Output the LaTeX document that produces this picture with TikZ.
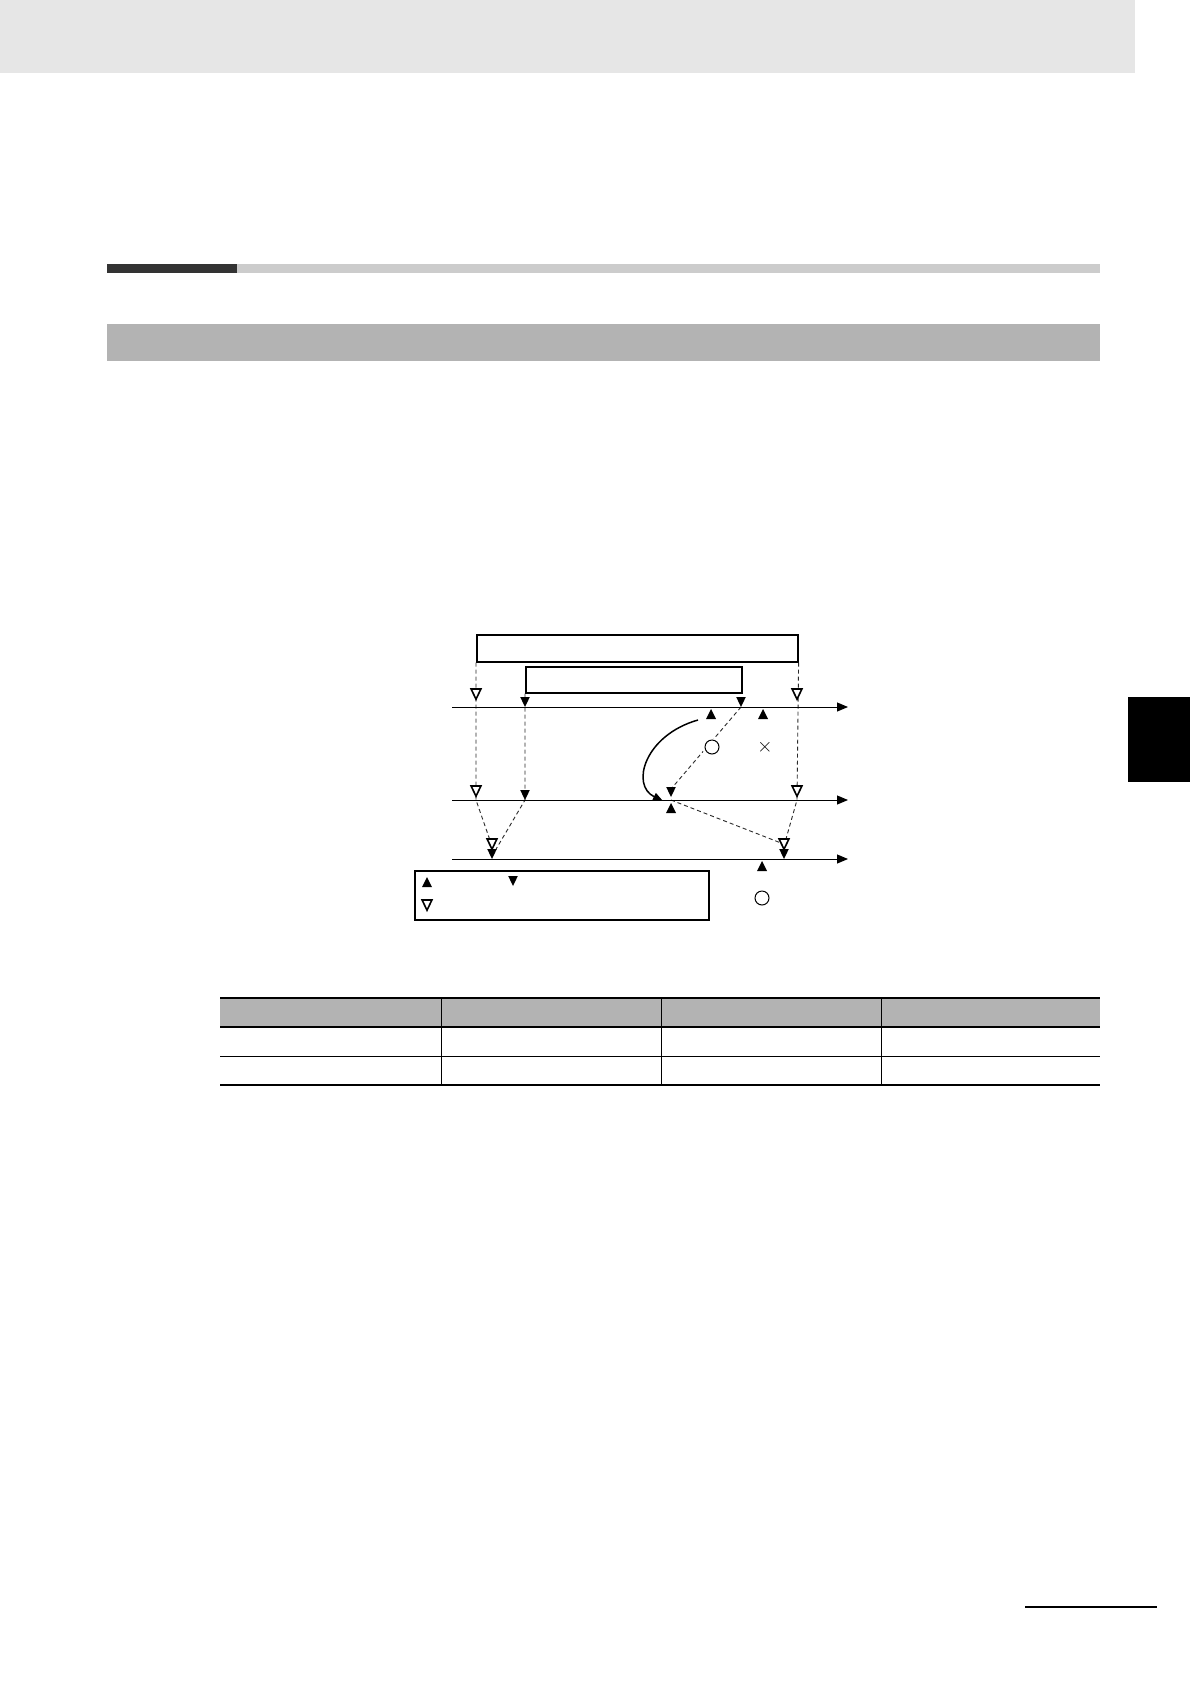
\documentclass[tikz,border=0pt]{standalone}
\usepackage{fontspec}
\usetikzlibrary{arrows.meta}
\definecolor{hdrgray}{HTML}{E6E6E6}
\definecolor{bardark}{HTML}{333333}
\definecolor{barlight}{HTML}{CCCCCC}
\definecolor{bandgray}{HTML}{B3B3B3}
\definecolor{dashgray}{HTML}{2A2A2A}
\tikzset{
  frame/.style={draw, line width=1.6pt, inner sep=0pt, anchor=north west},
  axis/.style={line width=1pt, -{Triangle[length=11pt,width=9pt]}},
  dsh/.style={dash pattern=on 4pt off 3pt, line width=0.9pt, dashgray},
  curvearrow/.style={line width=1.5pt, -{Triangle[length=10pt,width=8pt]}},
  ring/.style={circle, draw, line width=1pt, fill=white, minimum size=14pt, inner sep=0pt},
  knock/.style={circle, fill=white, minimum size=18pt, inner sep=0pt},
  dn/.pic={\fill (0,0) -- (-4.8,-10) -- (4.8,-10) -- cycle;},
  up/.pic={\fill (0,0) -- (-5,10) -- (5,10) -- cycle;},
  odn/.pic={\filldraw[fill=white, line width=1.6pt, line join=miter] (0,-0.8) -- (-4.9,-11) -- (4.9,-11) -- cycle;}
}
\begin{document}
\begin{tikzpicture}[x=1pt, y=-1pt]
\useasboundingbox (0,0) rectangle (1190,1684);
\fill[white] (0,0) rectangle (1190,1684);

% page decorations
\fill[hdrgray] (0,0) rectangle (1135,73);
\fill[bardark] (107,264) rectangle (237,273);
\fill[barlight] (237,264) rectangle (1100,273);
\fill[bandgray] (107,324) rectangle (1100,361);
\fill[black] (1128,697) rectangle (1190,782);
\draw[line width=2.5pt] (1025,1607) -- (1157,1607);

% boxes
\node[frame, minimum width=321pt, minimum height=27pt] (topbox) at (476,634) {};
\node[frame, minimum width=216pt, minimum height=26pt] (box2) at (525,666) {};
\node[frame, minimum width=294pt, minimum height=49pt] (legend) at (414,870) {};

% axes
\coordinate (L1s) at (452,707); \coordinate (L1e) at (848,707);
\coordinate (L2s) at (452,800); \coordinate (L2e) at (848,800);
\coordinate (L3s) at (452,859); \coordinate (L3e) at (848,859);

% key coordinates
\coordinate (a2) at (476,800); \coordinate (a3) at (492,846);
\coordinate (b2) at (525,800); \coordinate (b3) at (492,856);
\coordinate (d2) at (797,800); \coordinate (d3) at (784,846);
\coordinate (c1) at (741,707); \coordinate (c2) at (671,789);
\coordinate (e2) at (671,800); \coordinate (e3) at (781,843);
\coordinate (cs) at (698,720); \coordinate (ce) at (663,801);

% dashed connectors
\draw[dsh] (topbox.south west) -- (a2) -- (a3);
\draw[dsh] (box2.south west) -- (b2) -- (b3);
\draw[dsh] (topbox.south east) -- (d2) -- (d3);
\draw[dsh] (c1) -- (c2);
\draw[dsh] (e2) -- (e3);

% knockout and circle mark
\node[knock] (ko) at (711,747) {};
\node[ring] (ok) at (712,747) {};
\node (ng) at (765,747) {\fontsize{21}{21}\selectfont ×};

% axes on top
\draw[axis] (L1s) -- (L1e);
\draw[axis] (L2s) -- (L2e);
\draw[axis] (L3s) -- (L3e);

% curved arrow
\draw[curvearrow] (cs) .. controls (645,735) and (630,785) .. (ce);

% triangles on line 1
\pic at (476,700) {odn};
\pic at (525,707) {dn};
\pic at (741,707) {dn};
\pic at (797,700) {odn};
\pic at (711,709) {up};
\pic at (763,709) {up};
% line 2
\pic at (476,797) {odn};
\pic at (525,800) {dn};
\pic at (671,797) {dn};
\pic at (797,797) {odn};
\pic at (671,803) {up};
% line 3
\pic at (492,850) {odn};
\pic at (492,859) {dn};
\pic at (784,850) {odn};
\pic at (784,859) {dn};
\pic at (762,861) {up};

% legend marks
\pic at (427,877) {up};
\pic at (513,886) {dn};
\pic at (427,911) {odn};
\node[ring] (ok2) at (762,898) {};

% table
\fill[bandgray] (220,998) rectangle (1100,1027);
\draw[line width=2pt] (220,998) -- (1100,998);
\draw[line width=2pt] (220,1027) -- (1100,1027);
\draw[line width=1pt] (220,1056) -- (1100,1056);
\draw[line width=2.5pt] (220,1085) -- (1100,1085);
\foreach \cx in {441,661,881} \draw[line width=1pt] (\cx,998) -- (\cx,1085);
\end{tikzpicture}
\end{document}
